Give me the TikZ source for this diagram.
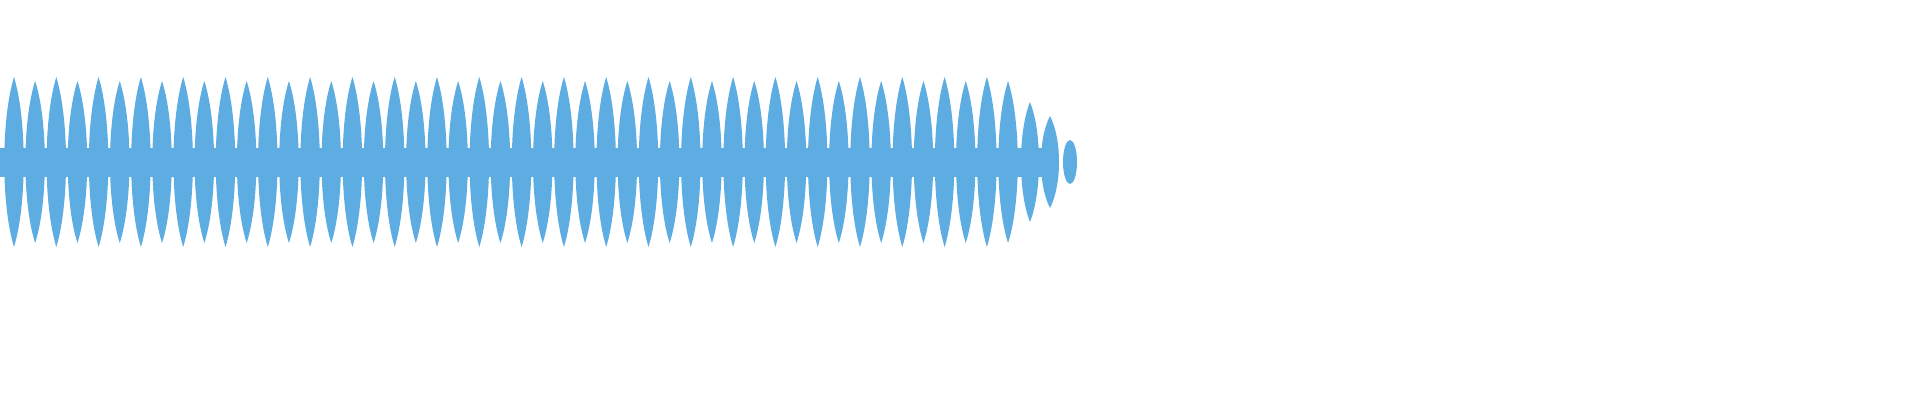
\documentclass[tikz,border=0pt]{standalone}
\begin{document}
\begin{tikzpicture}[x=1pt,y=-1pt]
\definecolor{wave}{RGB}{93,173,226}
\useasboundingbox (0,0) rectangle (1920,400);
\fill[wave] (0,148) rectangle (1056,177);
\foreach \i in {0,...,47}{
  \pgfmathsetmacro{\cx}{14+21.15*\i}
  \pgfmathsetmacro{\a}{mod(\i,2)==0 ? 85 : 81}
  \fill[wave] (\cx,162-\a) .. controls (\cx+13,162-\a*0.5) and (\cx+13,162+\a*0.5) .. (\cx,162+\a)
     .. controls (\cx-13,162+\a*0.5) and (\cx-13,162-\a*0.5) .. (\cx,162-\a);
}
\foreach \cx/\a in {1008/72,1030/60,1050/46}{
  \fill[wave] (\cx,162-\a) .. controls (\cx+12,162-\a*0.5) and (\cx+12,162+\a*0.5) .. (\cx,162+\a)
     .. controls (\cx-12,162+\a*0.5) and (\cx-12,162-\a*0.5) .. (\cx,162-\a);
}
\fill[wave] (1070,162) ellipse (7 and 22);
\end{tikzpicture}
\end{document}
